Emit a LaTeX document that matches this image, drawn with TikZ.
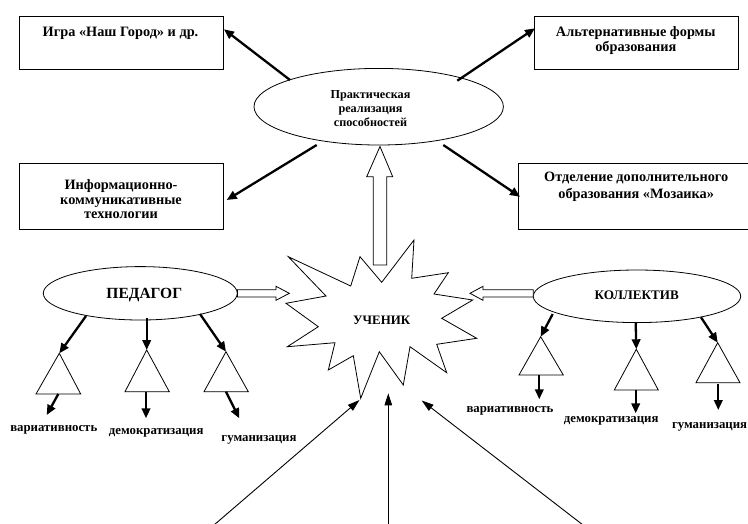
\documentclass[tikz,border=0pt]{standalone}
\usepackage{fontspec}
\setmainfont{Liberation Serif}
\usetikzlibrary{arrows.meta,calc,shapes.geometric}
\tikzset{
  x=1pt,y=-1pt,
  boxnode/.style={draw,line width=1pt,inner sep=0pt,anchor=north west},
  boxtext/.style={font=\bfseries\fontsize{14.3}{15}\selectfont,align=center,inner sep=0pt},
  ellnode/.style={draw,ellipse,line width=0.8pt,inner sep=0pt},
  thickarrow/.style={line width=2.3pt,-{Triangle[length=10pt,width=8.5pt]}},
  thinarrow/.style={line width=0.9pt,-{Triangle[length=12pt,width=7.5pt]}},
  hollow/.style={draw,line width=0.8pt,fill=white,line join=miter},
  tri/.style={draw,line width=0.8pt,line join=miter},
  lbl/.style={font=\bfseries\fontsize{12.8}{14}\selectfont,inner sep=0pt}
}
\begin{document}
\begin{tikzpicture}
\useasboundingbox (0,0) rectangle (748,523);
% top boxes
\node[boxnode,minimum width=203.4pt,minimum height=53.3pt] (b1) at (19.3,16) {};
\node[boxtext] (t1) at (120.5,33.3) {Игра «Наш Город» и др.};
\node[boxnode,minimum width=203.4pt,minimum height=53.3pt] (b3) at (534.3,16) {};
\node[boxtext,font=\bfseries\fontsize{14.3}{15}\selectfont] (t3) at (635.8,40.8) {Альтернативные формы\\образования};
\node[boxnode,minimum width=203.4pt,minimum height=66.6pt] (b2) at (19.3,162.7) {};
\node[boxtext,font=\bfseries\fontsize{14.3}{14.2}\selectfont] (t2) at (121,199.2) {Информационно-\\коммуникативные\\технологии};
\node[boxnode,minimum width=240pt,minimum height=66pt] (b4) at (518.3,163.3) {};
\node[boxtext,font=\bfseries\fontsize{14.3}{16.7}\selectfont] (t4) at (636.2,186.7) {Отделение дополнительного\\образования «Мозаика»};
% top ellipse
\node[ellnode,minimum width=249.4pt,minimum height=76.6pt] (pr) at (378.7,106.7) {};
\node[font=\bfseries\fontsize{12.2}{14}\selectfont,align=center,inner sep=0pt] (prt) at (370.5,109) {Практическая\\реализация\\способностей};
% arrows from top ellipse
\coordinate (p1) at (290,80);
\coordinate (p2) at (316.7,145);
\coordinate (p3) at (457.3,80.7);
\coordinate (p4) at (443.3,145);
\coordinate (e1) at (224,29.3);
\coordinate (e2) at (226.7,200);
\coordinate (e3) at (535,28.3);
\coordinate (e4) at (520,196.7);
\draw[thickarrow] (p1) -- (e1);
\draw[thickarrow] (p2) -- (e2);
\draw[thickarrow] (p3) -- (e3);
\draw[thickarrow] (p4) -- (e4);
% star
\draw[line width=0.8pt,line join=miter,fill=white] (288.3,256.7) -- (350.7,286) -- (360,256.7) -- (381.7,282.3) -- (414,240) -- (411.7,278.3) -- (448.3,272.7) -- (434,294) -- (472.7,300) -- (441.7,318.3) -- (476.7,338.3) -- (436.7,344.3) -- (446.7,372.7) -- (410,346.7) -- (403.3,385) -- (379.3,351.7) -- (360.7,398.3) -- (353.3,355.7) -- (328.3,370) -- (335,342.7) -- (287.3,346.7) -- (318.3,326.7) -- (286,303.3) -- (326,296) -- cycle;
\node[font=\bfseries\fontsize{12.9}{14}\selectfont,inner sep=0pt] (st) at (381.7,320) {УЧЕНИК};
% hollow up arrow
\draw[hollow] (373.3,265) -- (373.3,176.7) -- (366.7,176.7) -- (380,146.5) -- (392.7,176.7) -- (386.7,176.7) -- (386.7,265) -- cycle;
% side ellipses
\node[ellnode,minimum width=194pt,minimum height=53.4pt] (ped) at (140.3,293.3) {};
\node[font=\bfseries\fontsize{15.5}{16}\selectfont,inner sep=0pt] (pedt) at (144.3,295) {ПЕДАГОГ};
\node[ellnode,minimum width=207.4pt,minimum height=52.6pt] (kol) at (637,296.3) {};
\node[font=\bfseries\fontsize{13.1}{14}\selectfont,inner sep=0pt] (kolt) at (636.8,295) {КОЛЛЕКТИВ};
% hollow side arrows
\draw[hollow] (237.5,289.7) -- (276,289.7) -- (276,286.3) -- (289.3,293.3) -- (276,300.3) -- (276,297) -- (237.5,297) -- cycle;
\draw[hollow] (533.3,289.7) -- (483,289.7) -- (483,286.3) -- (470,293.3) -- (483,300.3) -- (483,297) -- (533.3,297) -- cycle;
% pedagog triangles
\draw[tri] (59.3,353.3) coordinate (ta1) -- (80.7,394) -- (36,394) -- cycle;
\draw[tri] (146.7,350) coordinate (ta2) -- (169.3,391.7) -- (125,391.7) -- cycle;
\draw[tri] (226,351.7) coordinate (ta3) -- (248.3,391.7) -- (204,391.7) -- cycle;
\draw[thickarrow] (86,316) -- (ta1);
\draw[thickarrow] (146.7,318.3) -- (ta2);
\draw[thickarrow] (200,314) -- (ta3);
\draw[thickarrow] (58.3,394) -- (46.7,415);
\draw[thickarrow] (146,391.7) -- (146,418.3);
\draw[thickarrow] (226,391.7) -- (239.3,418.3);
\node[lbl] (la1) at (53.8,430) {вариативность};
\node[lbl] (la2) at (156.2,433.3) {демократизация};
\node[lbl] (la3) at (259,440) {гуманизация};
% kollektiv triangles
\draw[tri] (540.7,336.7) coordinate (tb1) -- (563.3,375) -- (519,375) -- cycle;
\draw[tri] (636.3,349.3) coordinate (tb2) -- (658.3,390) -- (614.3,390) -- cycle;
\draw[tri] (717.7,342.7) coordinate (tb3) -- (740,382.7) -- (696,382.7) -- cycle;
\draw[thickarrow] (552.7,314) -- (tb1);
\draw[thickarrow] (635.7,322.7) -- (tb2);
\draw[thickarrow] (701,317.3) -- (tb3);
\draw[thickarrow] (539.3,375) -- (539.3,399.3);
\draw[thickarrow] (635.7,390) -- (635.7,413.3);
\draw[thickarrow] (718.3,383.5) -- (718.3,410);
\node[lbl] (lb1) at (510,410.7) {вариативность};
\node[lbl] (lb2) at (611.2,420.7) {демократизация};
\node[lbl,anchor=east] (lb3) at (747.3,426.7) {гуманизация};
% bottom arrows
\coordinate (s1) at (214,525);
\coordinate (s2) at (388.3,525);
\coordinate (s3) at (583,525);
\coordinate (f1) at (359.5,400);
\coordinate (f2) at (388.3,393.3);
\coordinate (f3) at (421.7,400.5);
\draw[thinarrow] (s1) -- (f1);
\draw[thinarrow] (s2) -- (f2);
\draw[thinarrow] (s3) -- (f3);
\end{tikzpicture}
\end{document}
